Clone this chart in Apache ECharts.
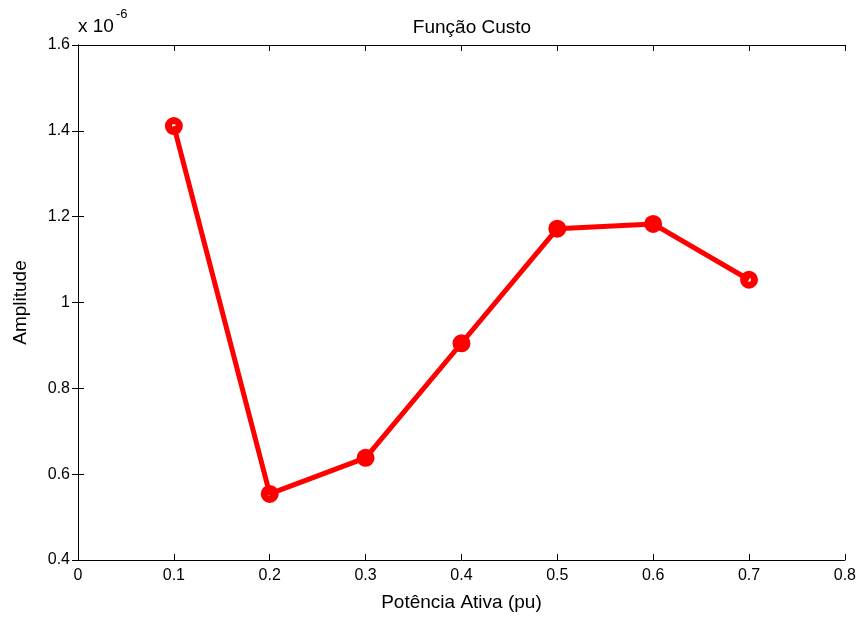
<!DOCTYPE html>
<html>
<head>
<meta charset="utf-8">
<script src="https://cdn.jsdelivr.net/npm/echarts@6/dist/echarts.min.js"></script>
<style>
html,body{margin:0;padding:0;background:#fff;}
#c{width:859px;height:617px;}
</style>
</head>
<body>
<div id="c"></div>
<script>
// Data (amplitude in units of 1e-6)
var potencia = [0.1, 0.2, 0.3, 0.4, 0.5, 0.6, 0.7];
var amplitude = [1.411, 0.554, 0.638, 0.905, 1.172, 1.183, 1.053];
var xTicks = [0, 0.1, 0.2, 0.3, 0.4, 0.5, 0.6, 0.7, 0.8];
var yTicks = [0.4, 0.6, 0.8, 1, 1.2, 1.4, 1.6];

var pts = potencia.map(function (x, i) { return [x, amplitude[i]]; });
var FONT = '"Liberation Sans", Arial, sans-serif';

function fmt(v) { return String(Math.round(v * 10) / 10); }

var chart = echarts.init(document.getElementById('c'), null, { renderer: 'canvas' });
var axisCommon = {
  axisLine: { show: true, lineStyle: { color: '#000', width: 1 } },
  axisTick: { show: true, inside: true, length: 6, lineStyle: { color: '#000', width: 1 } },
  splitLine: { show: false }
};
chart.setOption({
  animation: false,
  backgroundColor: '#fff',
  title: {
    text: 'Função Custo', left: 467, top: 13, textAlign: 'center',
    textStyle: { fontFamily: FONT, fontSize: 19, fontWeight: 'normal', color: '#000' }
  },
  grid: { left: 78, right: 14, top: 45, bottom: 53, containLabel: false },
  graphic: [
    { type: 'text', left: 78, top: 17,
      style: { text: 'x 10', fontFamily: FONT, fontSize: 19, fill: '#000' } },
    { type: 'text', left: 116, top: 8,
      style: { text: '-6', fontFamily: FONT, fontSize: 13, fill: '#000' } }
  ],
  xAxis: [
    Object.assign({}, axisCommon, {
      type: 'value', min: 0, max: 0.8, interval: 0.1, position: 'bottom',
      name: 'Potência Ativa (pu)', nameLocation: 'middle', nameGap: 33,
      nameTextStyle: { fontFamily: FONT, fontSize: 19, color: '#000' },
      axisLabel: { fontFamily: FONT, fontSize: 16, color: '#000', margin: 8, formatter: fmt }
    }),
    Object.assign({}, axisCommon, {
      type: 'value', min: 0, max: 0.8, interval: 0.1, position: 'top',
      axisLabel: { show: false }
    })
  ],
  yAxis: [
    Object.assign({}, axisCommon, {
      type: 'value', min: 0.4, max: 1.6, interval: 0.2, position: 'left',
      name: 'Amplitude', nameLocation: 'middle', nameGap: 48, nameRotate: 90,
      nameTextStyle: { fontFamily: FONT, fontSize: 19, color: '#000' },
      axisLabel: { fontFamily: FONT, fontSize: 16, color: '#000', margin: 8, formatter: fmt }
    }),
    Object.assign({}, axisCommon, {
      type: 'value', min: 0.4, max: 1.6, interval: 0.2, position: 'right',
      axisLabel: { show: false }
    })
  ],
  series: [
    {
      type: 'scatter', data: pts, symbol: 'circle', symbolSize: 11, z: 2,
      itemStyle: { color: '#fff', borderColor: '#ff0000', borderWidth: 7, opacity: 1 }
    },
    {
      type: 'line', data: pts, showSymbol: false, symbol: 'none', z: 3,
      lineStyle: { color: '#ff0000', width: 5 }
    }
  ]
});
</script>
</body>
</html>
